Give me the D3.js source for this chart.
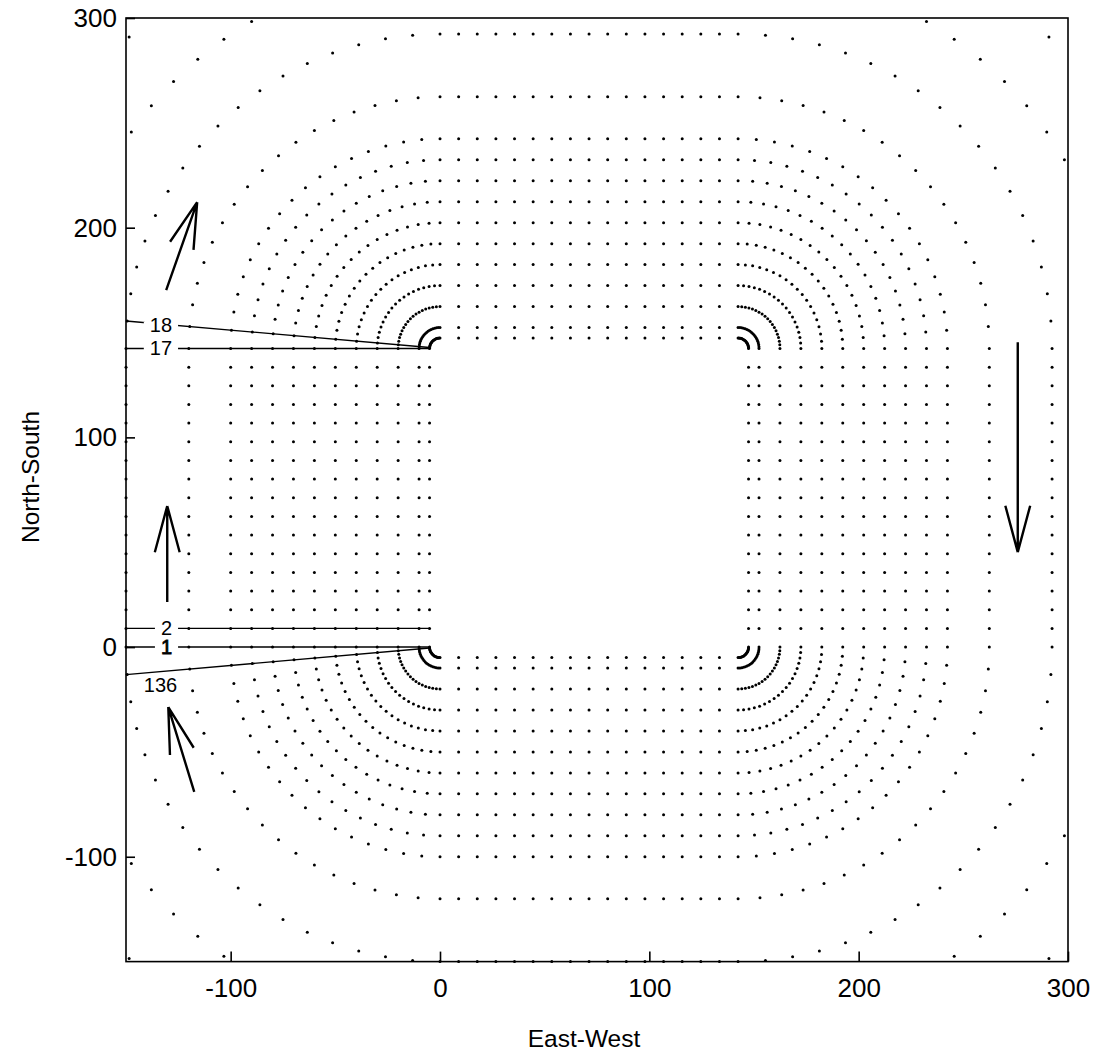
<!DOCTYPE html>
<html>
<head>
<meta charset="utf-8">
<script src="https://cdnjs.cloudflare.com/ajax/libs/d3/7.8.5/d3.min.js"></script>
<style>
  body { margin: 0; background: #fff; }
  svg text { font-family: "Liberation Sans", Arial, sans-serif; fill: #000; }
</style>
</head>
<body>
<div id="chart"></div>
<script>
//DATA
let squareSide = 142.4;
let sideSteps = 16;
let offsets = [5, 10, 20, 30, 40, 50, 60, 70, 80, 90, 100, 120, 150, 180, 210];
let cornerAngles = [5, 10, 15, 20, 25, 30, 35, 40, 45, 50, 55, 60, 65, 70, 75, 80, 85];
let xTicks = [-100, 0, 100, 200, 300];
let yTicks = [-100, 0, 100, 200, 300];
// labelled lines: side rows (row index) or corner rays (corner + angle)
let rayLines = [
    {label: '18', corner: 'topLeft', angle: 175},
    {label: '17', row: 16},
    {label: '2', row: 1},
    {label: '1', row: 0},
    {label: '136', corner: 'bottomLeft', angle: 185}
];
// arrows in data units: [tailX, tailY, tipX, tipY]
let arrows = [
    [-130.8, 170.2, -116.0, 212.2],
    [-130.3, 21.5, -130.3, 67.3],
    [-117.4, -69.1, -129.8, -28.6],
    [276.0, 145.4, 276.0, 45.3]
];

//CHART
let width = 1098, height = 1057;
let svg = d3.select('#chart').append('svg')
    .attr('width', width)
    .attr('height', height);

let x = d3.scaleLinear().domain([-150, 300]).range([126, 1068]);
let y = d3.scaleLinear().domain([-150, 300]).range([961.6, 18]);

let S = squareSide, h = squareSide / sideSteps;
let corners = {
    topLeft: [0, S], topRight: [S, S], bottomRight: [S, 0], bottomLeft: [0, 0]
};
let rad = Math.PI / 180;

// build the dot positions, walking round each contour
let dots = [];
offsets.forEach(function(d) {
    for (let k = 0; k <= sideSteps; k++) dots.push([-d, k * h]);
    cornerAngles.forEach(function(a) {
        let t = (90 + a) * rad;
        dots.push([d * Math.cos(t), S + d * Math.sin(t)]);
    });
    for (let k = 0; k <= sideSteps; k++) dots.push([k * h, S + d]);
    cornerAngles.forEach(function(a) {
        let t = a * rad;
        dots.push([S + d * Math.cos(t), S + d * Math.sin(t)]);
    });
    for (let k = 0; k <= sideSteps; k++) dots.push([S + d, k * h]);
    cornerAngles.forEach(function(a) {
        let t = -a * rad;
        dots.push([S + d * Math.cos(t), d * Math.sin(t)]);
    });
    for (let k = 0; k <= sideSteps; k++) dots.push([k * h, -d]);
    cornerAngles.forEach(function(a) {
        let t = (180 + a) * rad;
        dots.push([d * Math.cos(t), d * Math.sin(t)]);
    });
});

svg.append('defs').append('clipPath').attr('id', 'plotClip')
    .append('rect')
    .attr('x', x(-150) - 2).attr('y', y(300) - 2)
    .attr('width', x(300) - x(-150) + 4).attr('height', y(-150) - y(300) + 4);

let plot = svg.append('g').attr('clip-path', 'url(#plotClip)');

//Rays with labels
let labelRight = -128, labelMid = -133.5;
rayLines.forEach(function(r) {
    let p0, p1;
    if (r.row !== undefined) {
        p0 = [-offsets[0], r.row * h];
        p1 = [-150, r.row * h];
    } else {
        let c = corners[r.corner], t = r.angle * rad;
        p0 = [c[0] + offsets[0] * Math.cos(t), c[1] + offsets[0] * Math.sin(t)];
        let len = (c[0] + 150) / -Math.cos(t);
        p1 = [c[0] + len * Math.cos(t), c[1] + len * Math.sin(t)];
    }
    plot.append('line')
        .attr('x1', x(p0[0])).attr('y1', y(p0[1]))
        .attr('x2', x(p1[0])).attr('y2', y(p1[1]))
        .attr('stroke', '#000').attr('stroke-width', 1.4);

    let g = svg.append('g');
    if (r.corner === 'bottomLeft') {
        let ly = p0[1] + (p1[1] - p0[1]) * (labelMid - p0[0]) / (p1[0] - p0[0]);
        g.append('text')
            .attr('x', x(labelMid)).attr('y', y(ly) + 13)
            .attr('text-anchor', 'middle')
            .attr('dominant-baseline', 'central')
            .attr('font-size', 20)
            .text(r.label);
    } else {
        let ly = p0[1] + (p1[1] - p0[1]) * (labelRight - p0[0]) / (p1[0] - p0[0]);
        let t = g.append('text')
            .attr('x', x(labelRight)).attr('y', y(ly))
            .attr('text-anchor', 'end')
            .attr('dominant-baseline', 'central')
            .attr('font-size', 20)
            .text(r.label);
        if (r.label === '1') {
            t.attr('stroke', '#000').attr('stroke-width', 0.8);
        }
        let bb = t.node().getBBox();
        g.insert('rect', 'text')
            .attr('x', bb.x - 6).attr('y', y(ly) - 3)
            .attr('width', bb.width + 12).attr('height', 6)
            .attr('fill', '#fff');
    }
});

//Dots
plot.selectAll('.dot')
    .data(dots)
    .enter()
    .append('circle')
    .attr('class', 'dot')
    .attr('cx', function(d) { return x(d[0]); })
    .attr('cy', function(d) { return y(d[1]); })
    .attr('r', 1.5)
    .attr('fill', '#000');

//Arrows
arrows.forEach(function(a) {
    let x0 = x(a[0]), y0 = y(a[1]), x1 = x(a[2]), y1 = y(a[3]);
    let ang = Math.atan2(y1 - y0, x1 - x0);
    let headLen = 48, spread = 15 * rad;
    let path = 'M' + x0 + ',' + y0 + 'L' + x1 + ',' + y1;
    [-spread, spread].forEach(function(s) {
        path += 'M' + (x1 - headLen * Math.cos(ang + s)) + ',' + (y1 - headLen * Math.sin(ang + s)) +
            'L' + x1 + ',' + y1;
    });
    svg.append('path')
        .attr('d', path)
        .attr('fill', 'none')
        .attr('stroke', '#000')
        .attr('stroke-width', 2.4)
        .attr('stroke-linejoin', 'miter');
});

//Frame
svg.append('rect')
    .attr('x', x(-150)).attr('y', y(300))
    .attr('width', x(300) - x(-150)).attr('height', y(-150) - y(300))
    .attr('fill', 'none').attr('stroke', '#000').attr('stroke-width', 1.6);

//Axes
let fmt = function(d) { return String(d); };
let xAxis = svg.append('g')
    .attr('transform', 'translate(0,' + y(-150) + ')')
    .call(d3.axisBottom(x).tickValues(xTicks).tickFormat(fmt).tickSizeInner(-10).tickSizeOuter(0).tickPadding(17));
let yAxis = svg.append('g')
    .attr('transform', 'translate(' + x(-150) + ',0)')
    .call(d3.axisLeft(y).tickValues(yTicks).tickFormat(fmt).tickSizeInner(-9).tickSizeOuter(0).tickPadding(9));
[xAxis, yAxis].forEach(function(g) {
    g.select('.domain').remove();
    g.selectAll('.tick line').attr('stroke', '#000').attr('stroke-width', 1.6);
    g.selectAll('.tick text')
        .attr('font-size', 26)
        .attr('font-family', '"Liberation Sans", Arial, sans-serif')
        .attr('fill', '#000');
});

svg.append('text')
    .attr('x', 584).attr('y', 1038)
    .attr('text-anchor', 'middle')
    .attr('dominant-baseline', 'central')
    .attr('font-size', 24.5)
    .text('East-West');
svg.append('text')
    .attr('transform', 'translate(30,477) rotate(-90)')
    .attr('text-anchor', 'middle')
    .attr('dominant-baseline', 'central')
    .attr('font-size', 24.5)
    .text('North-South');
</script>
</body>
</html>
